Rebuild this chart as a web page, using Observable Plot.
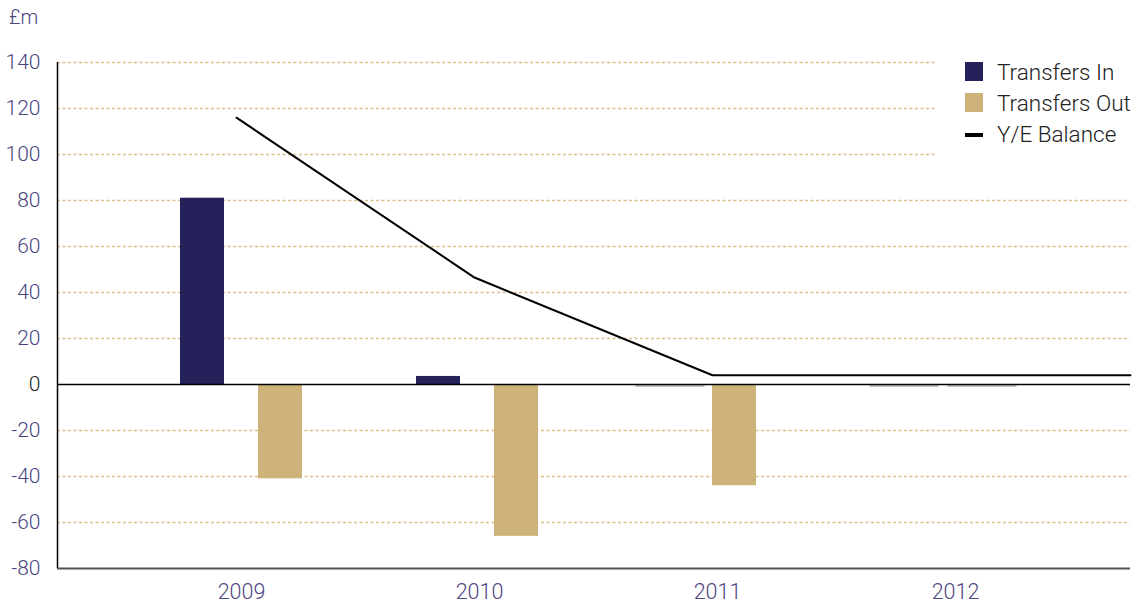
<!DOCTYPE html>
<html>
<head>
<meta charset="utf-8">
<script src="https://cdn.jsdelivr.net/npm/d3@7"></script>
<script src="https://cdn.jsdelivr.net/npm/@observablehq/plot@0.6"></script>
<style>
  html, body { margin: 0; padding: 0; background: #fff; }
  #wrap { position: relative; width: 1136px; height: 603px; font-family: Roboto, "Liberation Sans", Arial, sans-serif; font-weight: 300; }
  #unit { position: absolute; left: 9px; top: 5px; font-size: 20px; color: #4b4580; }
  #legend { position: absolute; left: 937px; top: 54px; width: 199px; height: 102px; background: #fff; }
  .row { position: absolute; left: 28px; height: 22px; font-size: 22.5px; color: #222; line-height: 22px; }
  .sw { position: absolute; left: 0; top: 1px; width: 18px; height: 19px; }
  .row span { position: absolute; left: 32px; top: 0; white-space: nowrap; }
</style>
</head>
<body>
<div id="wrap">
  <div id="chart"></div>
  <div id="unit">£m</div>
  <div id="legend"></div>
</div>
<script>
// ---- data ----
const years = [2009, 2010, 2011, 2012];
const transfersIn = [81, 3.5, 0, 0];
const transfersOut = [-41, -66, -44, 0];
const balance = [116, 46.5, 4, 4];
const yTicks = [-80, -60, -40, -20, 0, 20, 40, 60, 80, 100, 120, 140];
const seriesNames = ["Transfers In", "Transfers Out", "Y/E Balance"];
const seriesColors = ["#25215a", "#cdb379", "#000000"];

// ---- layout helpers (pixels converted to years) ----
const PX = 1 / 238;
const xDomain = [2009 - 184 * PX, 2012 + 175 * PX];
const barOffset = 39 * PX;
const barHalf = 22 * PX;
const zeroHalf = 34.5 * PX;
// small per-bar nudges (px) to follow the reference's slightly irregular placement
const nudgeIn = {2009: 0, 2010: -2, 2011: -8, 2012: -12};
const nudgeOut = {2009: 0, 2010: -2, 2011: -22, 2012: -12};

const bars = [];
years.forEach((yr, i) => {
  bars.push({year: yr, series: seriesNames[0], value: transfersIn[i], c: yr - barOffset + nudgeIn[yr] * PX});
  bars.push({year: yr, series: seriesNames[1], value: transfersOut[i], c: yr + barOffset + nudgeOut[yr] * PX});
});
const nonZero = bars.filter(d => d.value !== 0);
const zeros = bars.filter(d => d.value === 0);

const lineData = years.map((yr, i) => ({year: yr, value: balance[i]}));
lineData.push({year: xDomain[1] + 5 * PX, value: balance[balance.length - 1]});

const gridTicks = yTicks.filter(t => t !== 0 && t !== -80);
const fontFam = "Roboto, 'Liberation Sans', Arial, sans-serif";

const chart = Plot.plot({
  width: 1136,
  height: 603,
  marginTop: 62,
  marginBottom: 35,
  marginLeft: 57,
  marginRight: 6,
  style: {fontFamily: fontFam, background: "#fff", fontWeight: 300},
  x: {type: "linear", domain: xDomain, axis: null},
  y: {domain: [-80, 140], axis: null},
  color: {domain: seriesNames, range: seriesColors},
  marks: [
    Plot.ruleY(gridTicks, {stroke: "#d9c08a", strokeWidth: 1.3, strokeDasharray: "3,2.5"}),
    Plot.rectY(nonZero, {x1: d => d.c - barHalf, x2: d => d.c + barHalf, y1: 0, y2: "value", fill: "series"}),
    Plot.ruleY(zeros, {x1: d => d.c - zeroHalf, x2: d => d.c + zeroHalf, y: 0, dy: 1.5, stroke: "#aaa", strokeWidth: 1.5}),
    Plot.ruleY([0], {stroke: "#000", strokeWidth: 1.5}),
    Plot.ruleY([-80], {stroke: "#555", strokeWidth: 2}),
    Plot.ruleX([xDomain[0]], {y1: -80, y2: 140, stroke: "#000", strokeWidth: 1.5}),
    Plot.line(lineData, {x: "year", y: "value", dx: -5, stroke: "#000", strokeWidth: 2}),
    Plot.axisY(yTicks.filter(t => t !== 0), {label: null, tickSize: 0, tickPadding: 17, fontSize: 21, fill: "#4b4580", tickFormat: d => String(d)}),
    Plot.axisY([0], {label: null, tickSize: 0, tickPadding: 17, fontSize: 21, fill: "#222", tickFormat: d => String(d)}),
    Plot.axisX(years, {label: null, tickSize: 0, tickPadding: 15, fontSize: 21.5, fill: "#4b4580", tickFormat: d => String(d)})
  ]
});
document.getElementById("chart").appendChild(chart);

// ---- legend ----
const legend = document.getElementById("legend");
seriesNames.forEach((name, i) => {
  const row = document.createElement("div");
  row.className = "row";
  row.style.top = (7 + i * 31) + "px";
  const sw = document.createElement("div");
  sw.className = "sw";
  sw.style.background = seriesColors[i];
  if (i === 2) { sw.style.height = "4px"; sw.style.top = "10px"; }
  const t = document.createElement("span");
  t.textContent = name;
  row.appendChild(sw);
  row.appendChild(t);
  legend.appendChild(row);
});
</script>
</body>
</html>
